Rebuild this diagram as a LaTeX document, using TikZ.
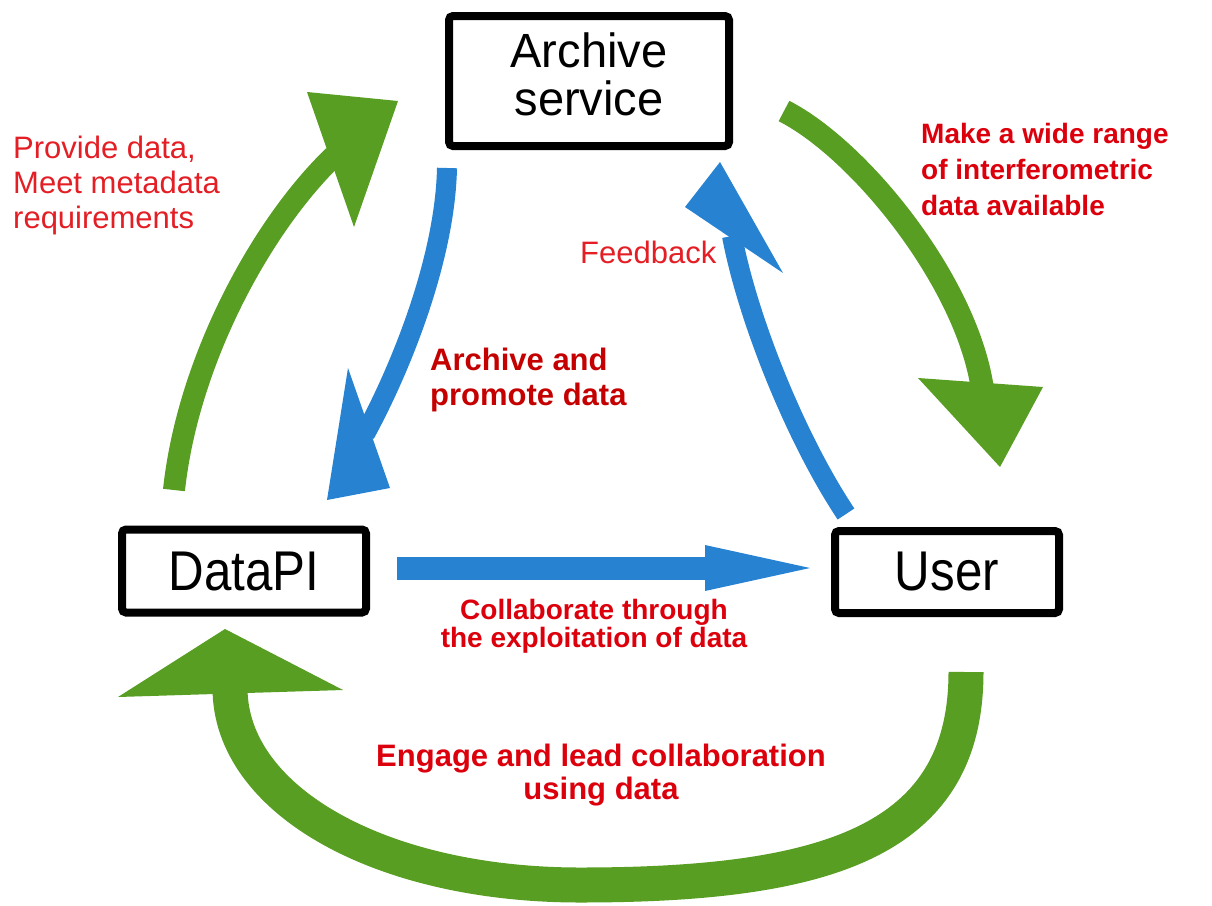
\documentclass[tikz,border=0pt]{standalone}
\usepackage{fontspec}
\setmainfont{Liberation Sans}
\newfontfamily\boxfont[FakeStretch=0.88]{Liberation Sans}
\newfontfamily\archfont[FakeStretch=0.98]{Liberation Sans}
\definecolor{agreen}{RGB}{88,158,34}
\definecolor{ablue}{RGB}{39,131,210}
\definecolor{redR}{RGB}{227,30,36}
\definecolor{redB}{RGB}{220,0,12}
\definecolor{redD}{RGB}{196,0,0}
\tikzset{
  blk/.style={draw=black, line width=8pt, rounded corners=4pt, inner sep=0pt, fill=white},
  band/.style={line width=#1},
  lbl/.style={inner sep=0pt},
}
\begin{document}
\begin{tikzpicture}[x=1pt,y=-1pt]
\useasboundingbox (0,0) rectangle (1212,905);

% nodes
\node[blk, minimum width=280pt, minimum height=130pt] (arch) at (589,81) {};
\node[lbl, font=\archfont\fontsize{48}{45}\selectfont] (archlbl) at (589,81)
  {\begin{tabular}{@{}c@{}}Archive\\service\end{tabular}};
\node[blk, minimum width=244pt, minimum height=83pt, font=\boxfont\fontsize{56}{60}\selectfont] (dpi) at (244,571) {DataPI};
\node[blk, minimum width=224pt, minimum height=82pt, font=\boxfont\fontsize{56}{60}\selectfont] (user) at (947,572) {User};

% connector coordinates (shaft ends and arrow-head corners)
\coordinate (g1s) at (174,490);  \coordinate (g1e) at (334,156);
\coordinate (g1a) at (307,92);   \coordinate (g1t) at (398,101);  \coordinate (g1b) at (354,227);
\coordinate (b2s) at (447,168);  \coordinate (b2e) at (365,434);
\coordinate (b2a) at (348,368);  \coordinate (b2b) at (390,488);  \coordinate (b2t) at (327,500);
\coordinate (b3s) at (846,514);  \coordinate (b3e) at (732,236);
\coordinate (b3a) at (685,207);  \coordinate (b3t) at (720,162);  \coordinate (b3b) at (783,273);
\coordinate (g4s) at (784,111);  \coordinate (g4e) at (982,386);
\coordinate (g4a) at (918,378);  \coordinate (g4b) at (1043,387); \coordinate (g4t) at (1000,467);
\coordinate (b5s) at (397,568);  \coordinate (b5e) at (708,568);
\coordinate (b5a) at (705,545);  \coordinate (b5t) at (810,568);  \coordinate (b5b) at (705,591);
\coordinate (g6s) at (966,672);  \coordinate (g6m) at (580,885);  \coordinate (g6e) at (230,688);
\coordinate (g6a) at (118,697);  \coordinate (g6t) at (225,629);  \coordinate (g6b) at (343,690);

% green: DataPI -> Archive service
\draw[agreen, band=22pt] (g1s) .. controls (188,360) and (262,225) .. (g1e);
\fill[agreen] (g1a) -- (g1t) -- (g1b) -- cycle;
% blue: Archive service -> DataPI
\draw[ablue, band=20pt] (b2s) .. controls (445,260) and (400,370) .. (b2e);
\fill[ablue] (b2a) -- (b2t) -- (b2b) -- cycle;
% blue: User -> Archive service (feedback)
\draw[ablue, band=20pt] (b3s) .. controls (796,439) and (748,320) .. (b3e);
\fill[ablue] (b3a) -- (b3t) -- (b3b) -- cycle;
% green: Archive service -> User
\draw[agreen, band=23pt] (g4s) .. controls (860,150) and (965,280) .. (g4e);
\fill[agreen] (g4a) -- (g4t) -- (g4b) -- cycle;
% blue: DataPI -> User
\draw[ablue, band=23pt] (b5s) -- (b5e);
\fill[ablue] (b5a) -- (b5t) -- (b5b) -- cycle;
% green: User -> DataPI
\draw[agreen, band=35pt] (g6s) .. controls (966,840) and (830,885) .. (g6m)
   .. controls (380,885) and (230,800) .. (g6e);
\fill[agreen] (g6a) -- (g6t) -- (g6b) -- cycle;

% labels
\node[lbl, anchor=base west, text=redR, font=\fontsize{31}{35}\selectfont] (prov) at (13,158)
  {\begin{tabular}[t]{@{}l@{}}Provide data,\\Meet metadata\\requirements\end{tabular}};
\node[lbl, anchor=base west, text=redB, font=\bfseries\fontsize{28}{36}\selectfont] (make) at (921,143)
  {\begin{tabular}[t]{@{}l@{}}Make a wide range\\of interferometric\\data available\end{tabular}};
\node[lbl, anchor=base west, text=redR, font=\fontsize{31}{35}\selectfont] (feed) at (580,263) {Feedback};
\node[lbl, anchor=base west, text=redD, font=\bfseries\fontsize{31}{35}\selectfont] (prom) at (430,370)
  {\begin{tabular}[t]{@{}l@{}}Archive and\\promote data\end{tabular}};
\node[lbl, anchor=base, text=redB, font=\bfseries\fontsize{28}{27}\selectfont] (coll) at (594,619)
  {\begin{tabular}[t]{@{}c@{}}Collaborate through\\the exploitation of data\end{tabular}};
\node[lbl, anchor=base, text=redB, font=\bfseries\fontsize{31}{33}\selectfont] (eng) at (601,766)
  {\begin{tabular}[t]{@{}c@{}}Engage and lead collaboration\\using data\end{tabular}};
\end{tikzpicture}
\end{document}
